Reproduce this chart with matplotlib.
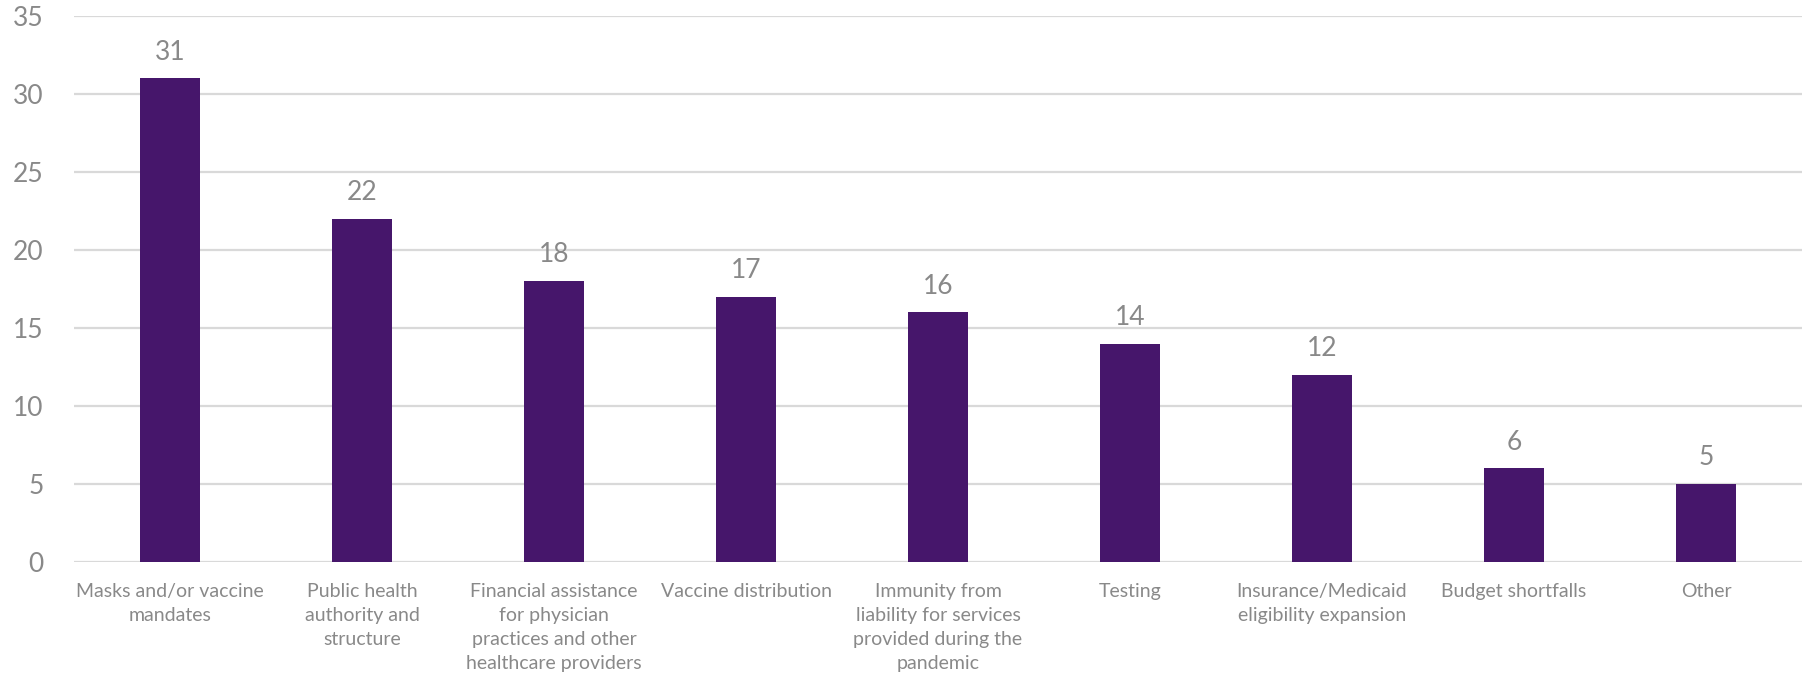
import matplotlib.pyplot as plt
import numpy as np

categories = [
    "Masks and/or vaccine\nmandates",
    "Public health\nauthority and\nstructure",
    "Financial assistance\nfor physician\npractices and other\nhealthcare providers",
    "Vaccine distribution",
    "Immunity from\nliability for services\nprovided during the\npandemic",
    "Testing",
    "Insurance/Medicaid\neligibility expansion",
    "Budget shortfalls",
    "Other",
]
counts = [31, 22, 18, 17, 16, 14, 12, 6, 5]
yticks = [0, 5, 10, 15, 20, 25, 30, 35]

BAR = "#46166b"
TXT = "#898989"
GRID = "#d9d9d9"

plt.rcParams['font.family'] = ['Lato', 'DejaVu Sans']

fig = plt.figure(figsize=(18.1, 6.81), dpi=100)
ax = fig.add_axes([74 / 1810, 1 - 562 / 681, (1802 - 74) / 1810, (562 - 16) / 681])

x = np.arange(len(categories))
bars = ax.bar(x, counts, width=0.31, color=BAR, zorder=3)
for xi, v in zip(x, counts):
    ax.annotate(str(v), (xi, v), xytext=(0, 10), textcoords='offset points',
                ha='center', va='bottom', fontsize=19, color=TXT)

ax.set_xlim(-0.5, len(categories) - 0.5)
ax.set_ylim(0, 35)
ax.set_yticks(yticks)
ax.set_xticks(x)
ax.set_xticklabels(categories, fontsize=14, color=TXT, linespacing=1.5)
ax.tick_params(axis='y', length=0, pad=22, labelsize=19, labelcolor=TXT)
ax.tick_params(axis='x', length=0, pad=15)
ax.grid(axis='y', color=GRID, linewidth=1.6, zorder=0)
for s in ax.spines.values():
    s.set_visible(False)

fig.savefig("out.png", dpi=100)
